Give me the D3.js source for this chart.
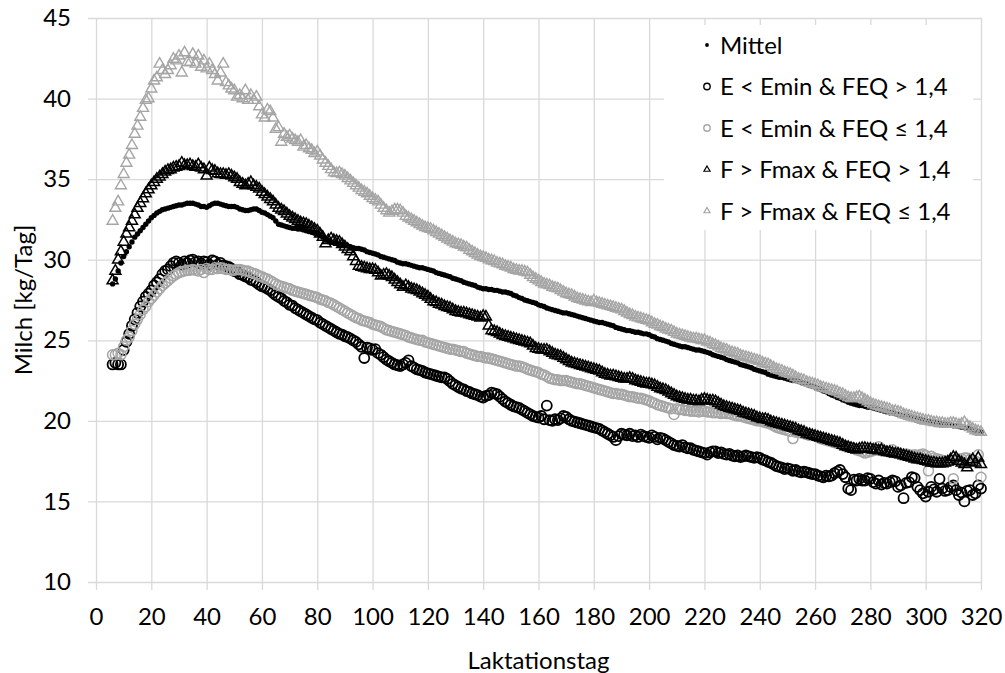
<!DOCTYPE html>
<html>
<head>
<meta charset="utf-8">
<script src="https://cdn.jsdelivr.net/npm/d3@7/dist/d3.min.js"></script>
<style>
    body { margin: 0; background: #fff; }
    text { font-family: Lato, "Open Sans", sans-serif; fill: #000; }
</style>
</head>
<body>
<div id="chart"></div>
<script>
// Milchleistung je Laktationstag, Tag 6 bis 320
var firstDay = 6;

var mittel = [
    28.5, 28.8, 29.3, 29.8, 30.2, 30.5, 30.8, 31.1, 31.4, 31.6,
    31.8, 32.0, 32.2, 32.4, 32.6, 32.75, 32.9, 33.0, 33.1, 33.15,
    33.2, 33.25, 33.3, 33.35, 33.4, 33.4, 33.45, 33.5, 33.5, 33.5,
    33.45, 33.4, 33.3, 33.3, 33.25, 33.35, 33.45, 33.5, 33.5, 33.45,
    33.4, 33.35, 33.3, 33.3, 33.3, 33.25, 33.15, 33.1, 33.05, 33.05,
    33.1, 33.15, 33.15, 33.05, 32.95, 32.9, 32.8, 32.7, 32.6, 32.4,
    32.2, 32.15, 32.1, 32.05, 32.0, 31.95, 31.95, 31.9, 31.9, 31.85,
    31.8, 31.75, 31.7, 31.65, 31.6, 31.5, 31.4, 31.3, 31.2, 31.1,
    31.05, 31.0, 30.95, 30.95, 30.9, 30.85, 30.8, 30.75, 30.7, 30.7,
    30.65, 30.6, 30.5, 30.45, 30.4, 30.35, 30.3, 30.2, 30.15, 30.1,
    30.05, 30.0, 29.95, 29.85, 29.8, 29.75, 29.75, 29.7, 29.65, 29.6,
    29.55, 29.5, 29.5, 29.45, 29.4, 29.35, 29.3, 29.2, 29.15, 29.1,
    29.05, 29.0, 28.95, 28.85, 28.8, 28.75, 28.7, 28.6, 28.55, 28.5,
    28.45, 28.4, 28.3, 28.25, 28.2, 28.2, 28.15, 28.15, 28.1, 28.1,
    28.05, 28.0, 28.0, 27.95, 27.9, 27.8, 27.75, 27.65, 27.6, 27.5,
    27.45, 27.4, 27.35, 27.3, 27.2, 27.15, 27.1, 27.0, 26.95, 26.9,
    26.85, 26.8, 26.75, 26.7, 26.7, 26.65, 26.6, 26.55, 26.5, 26.45,
    26.4, 26.35, 26.3, 26.25, 26.2, 26.15, 26.1, 26.1, 26.05, 26.0,
    25.95, 25.9, 25.8, 25.75, 25.7, 25.65, 25.6, 25.6, 25.55, 25.5,
    25.5, 25.45, 25.4, 25.4, 25.35, 25.25, 25.2, 25.1, 25.05, 25.0,
    24.95, 24.9, 24.8, 24.75, 24.7, 24.65, 24.6, 24.6, 24.55, 24.5,
    24.45, 24.4, 24.4, 24.35, 24.3, 24.25, 24.2, 24.1, 24.05, 24.0,
    23.95, 23.9, 23.8, 23.75, 23.7, 23.65, 23.6, 23.5, 23.45, 23.4,
    23.35, 23.3, 23.2, 23.15, 23.1, 23.05, 23.0, 22.9, 22.85, 22.8,
    22.75, 22.7, 22.7, 22.65, 22.6, 22.55, 22.5, 22.5, 22.45, 22.4,
    22.35, 22.3, 22.2, 22.15, 22.1, 22.0, 21.95, 21.85, 21.8, 21.7,
    21.6, 21.55, 21.45, 21.4, 21.3, 21.25, 21.15, 21.1, 21.05, 21.0,
    20.95, 20.95, 20.9, 20.85, 20.85, 20.8, 20.75, 20.7, 20.65, 20.6,
    20.55, 20.5, 20.5, 20.45, 20.4, 20.35, 20.3, 20.3, 20.25, 20.2,
    20.15, 20.1, 20.1, 20.05, 20.0, 19.95, 19.95, 19.9, 19.9, 19.85,
    19.8, 19.8, 19.75, 19.75, 19.7, 19.7, 19.65, 19.6, 19.6, 19.55,
    19.5, 19.45, 19.4, 19.35, 19.3
];

var eMinHoch = [
    23.5, 23.6, 23.5, 23.5, 24.4, 24.9, 25.4, 25.9, 26.3, 26.7,
    27.1, 27.4, 27.7, 27.9, 28.1, 28.4, 28.6, 28.8, 29.1, 29.3,
    29.4, 29.6, 29.8, 29.9, 29.8, 29.7, 29.9, 29.8, 29.95, 30.0,
    29.85, 29.9, 29.75, 29.9, 29.85, 29.7, 29.95, 29.9, 29.7, 29.8,
    29.65, 29.6, 29.55, 29.45, 29.3, 29.25, 29.1, 29.05, 28.95, 28.9,
    28.75, 28.7, 28.6, 28.45, 28.35, 28.3, 28.2, 28.1, 27.95, 27.8,
    27.7, 27.6, 27.45, 27.35, 27.2, 27.15, 27.0, 26.9, 26.8, 26.7,
    26.6, 26.5, 26.4, 26.3, 26.25, 26.1, 26.0, 25.9, 25.8, 25.7,
    25.6, 25.5, 25.4, 25.35, 25.25, 25.2, 25.1, 25.0, 24.9, 24.75,
    24.6, 23.9, 24.55, 24.5, 24.4, 24.45, 24.2, 24.1, 23.95, 23.8,
    23.7, 23.6, 23.5, 23.45, 23.4, 23.5, 23.6, 23.75, 23.4, 23.3,
    23.2, 23.15, 23.1, 23.0, 22.95, 22.9, 22.85, 22.8, 22.75, 22.7,
    22.7, 22.6, 22.45, 22.3, 22.2, 22.1, 22.0, 21.95, 21.85, 21.8,
    21.7, 21.65, 21.6, 21.5, 21.45, 21.55, 21.6, 21.75, 21.7, 21.65,
    21.5, 21.35, 21.2, 21.1, 21.0, 20.9, 20.85, 20.8, 20.7, 20.6,
    20.5, 20.4, 20.3, 20.25, 20.2, 20.3, 20.1, 20.95, 20.05, 20.0,
    20.1, 20.05, 20.15, 20.3, 20.25, 20.1, 20.0, 19.95, 19.9, 19.85,
    19.8, 19.75, 19.7, 19.65, 19.6, 19.55, 19.5, 19.4, 19.3, 19.2,
    19.1, 19.0, 18.8, 19.05, 19.2, 19.15, 19.1, 19.2, 19.05, 19.1,
    19.0, 19.15, 19.05, 19.0, 18.95, 19.1, 19.0, 18.85, 18.95, 18.9,
    18.8, 18.7, 18.6, 18.5, 18.45, 18.4, 18.5, 18.35, 18.3, 18.3,
    18.2, 18.15, 18.1, 18.05, 18.0, 17.9, 18.05, 18.1, 18.1, 18.0,
    18.05, 17.95, 17.9, 17.95, 17.85, 17.8, 17.85, 17.75, 17.8, 17.85,
    17.8, 17.75, 17.7, 17.75, 17.7, 17.6, 17.55, 17.45, 17.4, 17.3,
    17.2, 17.15, 17.1, 17.0, 17.05, 17.0, 16.9, 16.95, 16.85, 16.8,
    16.85, 16.8, 16.75, 16.7, 16.7, 16.6, 16.55, 16.5, 16.6, 16.55,
    16.6, 16.75, 16.85, 16.95, 16.7, 16.5, 15.8, 15.7, 16.35, 16.3,
    16.4, 16.3, 16.3, 16.45, 16.4, 16.2, 16.1, 16.3, 16.05, 16.15,
    16.1, 16.2, 16.3, 16.25, 15.9, 16.0, 15.2, 16.15, 16.2, 16.5,
    16.45, 15.9, 15.7, 15.5, 15.3, 15.6, 15.9, 15.75, 15.6, 16.4,
    15.8, 15.65, 15.7, 15.9, 16.0, 15.7, 15.4, 15.55, 15.0, 15.65,
    15.7, 15.4, 15.5, 16.0, 15.8
];

var eMinNiedrig = [
    24.1, 24.1, 24.2, 24.1, 24.6, 25.0, 25.2, 25.6, 26.0, 26.3,
    26.6, 26.9, 27.1, 27.4, 27.6, 27.8, 28.0, 28.2, 28.4, 28.55,
    28.7, 28.85, 29.0, 29.1, 29.2, 29.25, 29.3, 29.35, 29.35, 29.4,
    29.35, 29.3, 29.4, 29.2, 29.45, 29.4, 29.4, 29.5, 29.45, 29.5,
    29.45, 29.4, 29.4, 29.35, 29.35, 29.4, 29.4, 29.35, 29.3, 29.3,
    29.2, 29.15, 29.1, 29.0, 28.95, 28.85, 28.8, 28.7, 28.6, 28.5,
    28.4, 28.35, 28.3, 28.25, 28.2, 28.1, 28.05, 28.0, 27.95, 27.9,
    27.85, 27.8, 27.75, 27.7, 27.65, 27.55, 27.5, 27.45, 27.35, 27.3,
    27.2, 27.1, 27.0, 26.9, 26.8, 26.7, 26.6, 26.5, 26.4, 26.35,
    26.25, 26.2, 26.15, 26.1, 26.0, 25.95, 25.9, 25.85, 25.75, 25.65,
    25.6, 25.55, 25.5, 25.45, 25.4, 25.35, 25.3, 25.2, 25.15, 25.1,
    25.05, 25.0, 25.0, 24.9, 24.85, 24.8, 24.75, 24.7, 24.65, 24.6,
    24.55, 24.5, 24.45, 24.45, 24.4, 24.35, 24.3, 24.3, 24.2, 24.15,
    24.1, 24.05, 24.0, 24.0, 23.95, 23.9, 23.9, 23.85, 23.8, 23.75,
    23.7, 23.65, 23.6, 23.55, 23.5, 23.45, 23.4, 23.4, 23.35, 23.3,
    23.2, 23.15, 23.1, 23.05, 23.0, 22.9, 22.85, 22.75, 22.65, 22.6,
    22.55, 22.55, 22.5, 22.5, 22.5, 22.45, 22.4, 22.35, 22.3, 22.3,
    22.25, 22.2, 22.15, 22.1, 22.05, 22.0, 21.95, 21.9, 21.85, 21.8,
    21.75, 21.7, 21.7, 21.65, 21.65, 21.6, 21.55, 21.5, 21.5, 21.45,
    21.4, 21.4, 21.35, 21.3, 21.25, 21.15, 21.1, 21.0, 20.95, 20.9,
    20.85, 20.8, 20.75, 20.4, 20.75, 20.7, 20.7, 20.65, 20.65, 20.6,
    20.6, 20.6, 20.55, 20.6, 20.6, 20.55, 20.55, 20.5, 20.5, 20.5,
    20.45, 20.5, 20.45, 20.45, 20.4, 20.35, 20.3, 20.3, 20.25, 20.2,
    20.15, 20.1, 20.05, 20.0, 20.0, 19.95, 19.9, 19.85, 19.8, 19.7,
    19.6, 19.55, 19.5, 19.45, 19.4, 19.35, 18.9, 19.3, 19.3, 19.25,
    19.2, 19.15, 19.1, 19.1, 19.05, 19.0, 18.9, 18.85, 18.8, 18.75,
    18.7, 18.65, 18.6, 18.55, 18.5, 18.45, 18.4, 18.35, 18.3, 18.2,
    18.15, 18.1, 18.0, 18.05, 18.1, 18.15, 18.2, 18.4, 18.2, 18.15,
    18.1, 18.05, 18.2, 18.0, 18.0, 17.95, 17.9, 17.95, 17.9, 17.85,
    17.9, 17.85, 17.9, 17.95, 17.85, 16.9, 17.8, 17.7, 17.65, 17.6,
    17.55, 17.5, 17.5, 17.55, 16.4, 17.6, 17.6, 17.65, 17.7, 17.7,
    17.6, 17.55, 17.5, 17.9, 16.5
];

var fMaxHoch = [
    28.7, 29.3, 30.0, 30.5, 31.1, 31.6, 32.0, 32.4, 32.8, 33.2,
    33.5, 33.8, 34.1, 34.35, 34.6, 34.8, 35.0, 35.15, 35.3, 35.45,
    35.55, 35.6, 35.7, 35.75, 35.8, 36.0, 35.85, 35.85, 35.9, 35.8,
    35.75, 35.9, 35.7, 35.6, 35.2, 35.7, 35.55, 35.5, 35.35, 35.3,
    35.3, 35.25, 35.3, 35.2, 35.1, 35.0, 34.8, 34.7, 34.6, 34.7,
    34.8, 34.6, 34.5, 34.4, 34.2, 34.05, 33.9, 33.75, 33.6, 33.4,
    33.2, 33.1, 33.0, 32.85, 32.7, 32.6, 32.5, 32.4, 32.3, 32.25,
    32.2, 32.1, 32.0, 31.9, 31.8, 31.6, 31.4, 31.0, 31.2, 31.3,
    31.2, 31.15, 31.1, 30.95, 30.8, 30.65, 30.5, 30.2, 29.9, 29.6,
    29.55, 29.5, 29.45, 29.4, 29.4, 29.35, 29.2, 29.0, 29.05, 29.1,
    29.0, 28.9, 28.75, 28.6, 28.45, 28.3, 28.4, 28.3, 28.2, 28.15,
    28.1, 28.0, 27.9, 27.8, 27.7, 27.55, 27.4, 27.35, 27.25, 27.2,
    27.1, 27.05, 27.0, 26.9, 26.8, 26.75, 26.7, 26.7, 26.65, 26.6,
    26.55, 26.5, 26.45, 26.4, 26.5, 26.45, 25.9, 25.6, 25.55, 25.5,
    25.4, 25.3, 25.25, 25.2, 25.15, 25.1, 25.05, 25.0, 24.95, 24.9,
    24.85, 24.8, 24.65, 24.5, 24.45, 24.4, 24.4, 24.4, 24.3, 24.2,
    24.1, 24.05, 24.0, 23.9, 23.8, 23.7, 23.6, 23.55, 23.5, 23.45,
    23.4, 23.35, 23.3, 23.25, 23.2, 23.15, 23.1, 23.0, 22.9, 22.85,
    22.8, 22.8, 22.75, 22.7, 22.65, 22.6, 22.6, 22.65, 22.6, 22.5,
    22.45, 22.4, 22.35, 22.3, 22.3, 22.25, 22.2, 22.1, 22.0, 21.95,
    21.9, 21.8, 21.7, 21.6, 21.5, 21.45, 21.4, 21.35, 21.3, 21.3,
    21.25, 21.25, 21.2, 21.3, 21.35, 21.3, 21.25, 21.25, 21.2, 21.1,
    21.0, 20.9, 20.85, 20.8, 20.75, 20.7, 20.65, 20.6, 20.5, 20.45,
    20.4, 20.35, 20.3, 20.2, 20.15, 20.1, 20.1, 20.05, 19.95, 19.9,
    19.85, 19.8, 19.75, 19.7, 19.65, 19.6, 19.55, 19.5, 19.4, 19.35,
    19.3, 19.2, 19.15, 19.1, 19.05, 19.0, 18.95, 18.9, 18.85, 18.8,
    18.75, 18.7, 18.65, 18.6, 18.5, 18.4, 18.35, 18.3, 18.25, 18.2,
    18.25, 18.3, 18.3, 18.25, 18.25, 18.2, 18.2, 18.15, 18.2, 18.1,
    18.05, 18.05, 18.0, 17.95, 17.95, 17.9, 17.85, 17.8, 17.75, 17.7,
    17.65, 17.6, 17.6, 17.55, 17.5, 17.45, 17.4, 17.4, 17.35, 17.35,
    17.35, 17.4, 17.45, 17.6, 17.75, 17.7, 17.5, 17.4, 17.3, 17.1,
    17.45, 17.6, 17.4, 17.7, 17.3
];

var fMaxNiedrig = [
    32.4, 33.2, 33.6, 34.6, 35.3, 36.0, 36.5, 37.1, 37.8, 38.3,
    38.85, 39.4, 39.9, 40.0, 40.6, 41.1, 41.3, 42.15, 41.75, 41.5,
    41.75, 42.05, 42.45, 42.35, 42.65, 41.6, 42.85, 42.25, 42.25, 42.75,
    42.15, 42.65, 41.95, 42.35, 41.85, 42.15, 41.75, 41.5, 41.1, 41.6,
    42.15, 41.0, 40.8, 40.6, 40.5, 40.1, 40.2, 40.0, 40.5, 39.9,
    40.2, 39.9, 40.1, 39.5, 39.0, 38.8, 39.3, 39.2, 38.8, 38.1,
    38.2, 37.3, 37.8, 37.6, 37.7, 37.5, 37.4, 37.3, 37.4, 37.0,
    37.1, 36.9, 36.8, 36.6, 36.7, 36.45, 36.2, 36.0, 35.8, 35.6,
    35.4, 35.35, 35.4, 35.3, 35.2, 35.05, 34.9, 34.75, 34.6, 34.45,
    34.3, 34.2, 34.1, 33.95, 33.8, 33.7, 33.6, 33.4, 33.2, 33.05,
    32.9, 33.0, 33.1, 33.1, 33.05, 32.9, 32.7, 32.6, 32.5, 32.4,
    32.3, 32.2, 32.1, 32.0, 31.95, 31.9, 31.8, 31.7, 31.6, 31.5,
    31.4, 31.3, 31.2, 31.1, 31.0, 30.95, 30.9, 30.8, 30.75, 30.6,
    30.5, 30.4, 30.3, 30.2, 30.15, 30.1, 30.0, 29.95, 29.9, 29.8,
    29.75, 29.7, 29.6, 29.55, 29.5, 29.4, 29.35, 29.3, 29.3, 29.25,
    29.2, 29.05, 28.9, 28.8, 28.7, 28.6, 28.5, 28.45, 28.4, 28.3,
    28.25, 28.2, 28.1, 28.0, 27.9, 27.85, 27.8, 27.7, 27.6, 27.55,
    27.5, 27.45, 27.4, 27.35, 27.45, 27.35, 27.3, 27.25, 27.2, 27.15,
    27.1, 27.05, 27.0, 26.95, 26.9, 26.8, 26.7, 26.6, 26.55, 26.45,
    26.4, 26.35, 26.3, 26.25, 26.2, 26.1, 26.0, 25.95, 25.85, 25.8,
    25.7, 25.65, 25.6, 25.5, 25.4, 25.35, 25.3, 25.25, 25.2, 25.15,
    25.1, 25.1, 25.05, 25.0, 25.0, 24.9, 24.85, 24.75, 24.7, 24.6,
    24.5, 24.45, 24.4, 24.3, 24.25, 24.2, 24.15, 24.05, 24.0, 23.95,
    23.9, 23.85, 23.8, 23.75, 23.7, 23.6, 23.55, 23.5, 23.4, 23.3,
    23.2, 23.15, 23.1, 23.0, 22.95, 22.9, 22.8, 22.7, 22.6, 22.55,
    22.5, 22.4, 22.35, 22.3, 22.25, 22.2, 22.1, 22.05, 22.0, 21.95,
    21.9, 21.85, 21.8, 21.7, 21.65, 21.55, 21.45, 21.4, 21.4, 21.45,
    21.5, 21.4, 21.3, 21.2, 21.1, 21.0, 20.95, 20.9, 20.85, 20.8,
    20.75, 20.7, 20.6, 20.6, 20.55, 20.5, 20.4, 20.35, 20.3, 20.25,
    20.2, 20.15, 20.1, 20.05, 20.0, 20.0, 19.95, 19.9, 19.9, 19.85,
    19.85, 19.8, 19.8, 19.85, 19.85, 19.8, 19.75, 19.8, 19.9, 19.7,
    19.6, 19.5, 19.4, 19.35, 19.3
];

var seriesNames = ["Mittel", "E < Emin & FEQ > 1,4", "E < Emin & FEQ ≤ 1,4",
    "F > Fmax & FEQ > 1,4", "F > Fmax & FEQ ≤ 1,4"];
var xTicks = [0, 20, 40, 60, 80, 100, 120, 140, 160, 180, 200, 220, 240, 260, 280, 300, 320];
var yTicks = [10, 15, 20, 25, 30, 35, 40, 45];

(() => {
    var width = 1005;
    var height = 673;
    var left = 96, right = 981, top = 18, bottom = 582;
    var gridColor = "#d9d9d9";
    var grey = "#a5a5a5";
    var fontSize = "24px";

    var svg = d3.select("#chart")
        .append("svg")
        .attr("width", width)
        .attr("height", height);

    var xScale = d3.scaleLinear().domain([0, 320]).range([left, right]);
    var yScale = d3.scaleLinear().domain([10, 45]).range([bottom, top]);

    // Gitterlinien + Achsen
    var yAxis = svg.append("g")
        .attr("transform", "translate(" + left + ",0)")
        .call(d3.axisLeft(yScale).tickValues(yTicks).tickSize(0).tickPadding(25));
    yAxis.select(".domain").remove();
    yAxis.selectAll(".tick line")
        .attr("x1", -8)
        .attr("x2", right - left)
        .attr("stroke", gridColor)
        .attr("stroke-width", 1.3);
    yAxis.selectAll(".tick text")
        .attr("font-size", fontSize)
        .attr("font-family", "Lato, sans-serif");

    var xAxis = svg.append("g")
        .attr("transform", "translate(0," + bottom + ")")
        .call(d3.axisBottom(xScale).tickValues(xTicks).tickSize(0).tickPadding(26));
    xAxis.select(".domain").remove();
    xAxis.selectAll(".tick line")
        .attr("y1", 8)
        .attr("y2", top - bottom)
        .attr("stroke", gridColor)
        .attr("stroke-width", 1.3);
    xAxis.selectAll(".tick text")
        .attr("font-size", fontSize)
        .attr("font-family", "Lato, sans-serif");

    function points(values) {
        return values.map(function (v, i) {
            return { day: firstDay + i, milk: v };
        });
    }

    var triangle = d3.symbol().type(d3.symbolTriangle).size(52);

    // Mittel
    svg.append("g").selectAll("circle")
        .data(points(mittel))
        .join("circle")
        .attr("cx", function (d) { return xScale(d.day); })
        .attr("cy", function (d) { return yScale(d.milk); })
        .attr("r", 2.7)
        .attr("fill", "#000");

    // Energie zu niedrig
    svg.append("g").selectAll("circle")
        .data(points(eMinHoch))
        .join("circle")
        .attr("cx", function (d) { return xScale(d.day); })
        .attr("cy", function (d) { return yScale(d.milk); })
        .attr("r", 5)
        .attr("fill", "none")
        .attr("stroke", "#000")
        .attr("stroke-width", 1.8);

    svg.append("g").selectAll("circle")
        .data(points(eMinNiedrig))
        .join("circle")
        .attr("cx", function (d) { return xScale(d.day); })
        .attr("cy", function (d) { return yScale(d.milk); })
        .attr("r", 5)
        .attr("fill", "none")
        .attr("stroke", grey)
        .attr("stroke-width", 1.5);

    // Fett zu hoch
    svg.append("g").selectAll("path")
        .data(points(fMaxHoch))
        .join("path")
        .attr("d", triangle)
        .attr("transform", function (d) {
            return "translate(" + xScale(d.day) + "," + yScale(d.milk) + ")";
        })
        .attr("fill", "none")
        .attr("stroke", "#000")
        .attr("stroke-width", 1.5);

    svg.append("g").selectAll("path")
        .data(points(fMaxNiedrig))
        .join("path")
        .attr("d", triangle)
        .attr("transform", function (d) {
            return "translate(" + xScale(d.day) + "," + yScale(d.milk) + ")";
        })
        .attr("fill", "none")
        .attr("stroke", grey)
        .attr("stroke-width", 1.4);

    // Legende
    var legend = svg.append("g");
    legend.append("rect")
        .attr("x", 664)
        .attr("y", 25)
        .attr("width", 309)
        .attr("height", 205)
        .attr("fill", "#fff");

    var rowY = d3.scalePoint().domain(seriesNames).range([45, 211]);
    var smallTriangle = d3.symbol().type(d3.symbolTriangle).size(16);

    seriesNames.forEach(function (name, i) {
        var y = rowY(name);
        if (i === 0) {
            legend.append("circle").attr("cx", 707).attr("cy", y).attr("r", 1.9).attr("fill", "#000");
        } else if (i < 3) {
            legend.append("circle").attr("cx", 707).attr("cy", y).attr("r", 3.2)
                .attr("fill", "none").attr("stroke", i === 1 ? "#000" : grey).attr("stroke-width", 1.4);
        } else {
            legend.append("path").attr("d", smallTriangle)
                .attr("transform", "translate(707," + y + ")")
                .attr("fill", "none").attr("stroke", i === 3 ? "#000" : grey).attr("stroke-width", 1.2);
        }
        legend.append("text")
            .attr("x", 720)
            .attr("y", y)
            .attr("dy", "0.36em")
            .attr("font-size", fontSize)
            .text(name);
    });

    // Achsentitel
    svg.append("text")
        .attr("transform", "translate(23," + (top + bottom) / 2 + ") rotate(-90)")
        .attr("text-anchor", "middle")
        .attr("dy", "0.36em")
        .attr("font-size", fontSize)
        .text("Milch [kg/Tag]");

    svg.append("text")
        .attr("x", (left + right) / 2)
        .attr("y", 660)
        .attr("text-anchor", "middle")
        .attr("dy", "0.36em")
        .attr("font-size", fontSize)
        .text("Laktationstag");
})();
</script>
</body>
</html>
